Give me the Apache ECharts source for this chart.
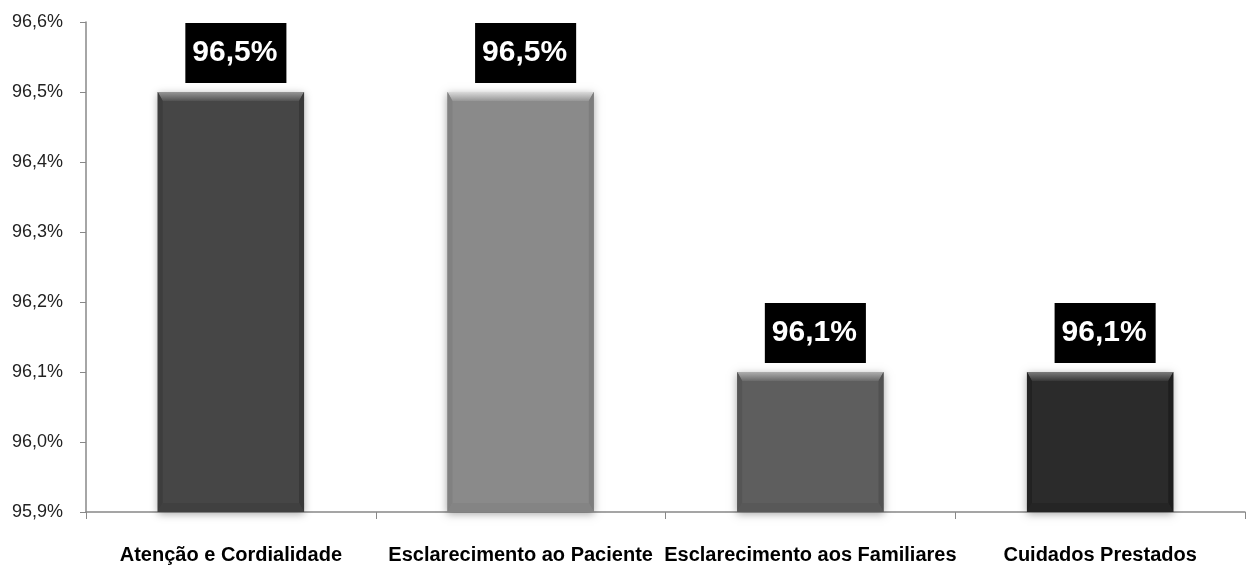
<!DOCTYPE html>
<html>
<head>
<meta charset="utf-8">
<script src="https://cdn.jsdelivr.net/npm/echarts@6/dist/echarts.min.js"></script>
<style>
  html, body { margin: 0; padding: 0; background: #fff; }
  #chart { width: 1247px; height: 567px; }
</style>
</head>
<body>
<div id="chart"></div>
<script>
const categories = ['Atenção e Cordialidade', 'Esclarecimento ao Paciente', 'Esclarecimento aos Familiares', 'Cuidados Prestados'];
const values = [96.5, 96.5, 96.1, 96.1];
const barColors = ['#464646', '#8a8a8a', '#5e5e5e', '#2b2b2b'];
const yTicks = { min: 95.9, max: 96.6, step: 0.1 };

const fmt = v => v.toFixed(1).replace('.', ',') + '%';

function shade(hex, amt) {
  const n = parseInt(hex.slice(1), 16);
  const c = [(n >> 16) & 255, (n >> 8) & 255, n & 255].map(x => Math.max(0, Math.min(255, Math.round(x + amt))));
  return 'rgb(' + c.join(',') + ')';
}

function renderBar(params, api) {
  const idx = api.value(0);
  const val = api.value(1);
  const top = api.coord([idx, val]);
  const base = api.coord([idx, yTicks.min]);
  const bandW = api.size([1, 0])[0];
  const w = bandW * 0.505;
  const x0 = top[0] - w / 2, x1 = top[0] + w / 2;
  const y0 = top[1], y1 = base[1];
  const col = barColors[idx];
  const b = 9;  // bevel depth
  const s = 5;  // side bevel
  return {
    type: 'group',
    children: [
      { type: 'rect', shape: { x: x0, y: y0, width: w, height: y1 - y0 },
        style: { fill: col, shadowBlur: 8, shadowColor: 'rgba(0,0,0,0.35)', shadowOffsetY: 2 } },
      // top bevel
      { type: 'polygon', shape: { points: [[x0, y0], [x1, y0], [x1 - s, y0 + b], [x0 + s, y0 + b]] },
        style: { fill: new echarts.graphic.LinearGradient(0, 0, 0, 1, [
          { offset: 0, color: shade(col, 80) }, { offset: 1, color: shade(col, 12) }]) } },
      // left bevel
      { type: 'polygon', shape: { points: [[x0, y0], [x0 + s, y0 + b], [x0 + s, y1 - b], [x0, y1]] },
        style: { fill: shade(col, -9) } },
      // right bevel
      { type: 'polygon', shape: { points: [[x1, y0], [x1 - s, y0 + b], [x1 - s, y1 - b], [x1, y1]] },
        style: { fill: shade(col, -13) } },
      // bottom bevel
      { type: 'polygon', shape: { points: [[x0, y1], [x0 + s, y1 - b], [x1 - s, y1 - b], [x1, y1]] },
        style: { fill: shade(col, -6) } },
      // value label
      { type: 'text', x: top[0] + 5, y: y0 - 9,
        style: { text: fmt(val), fill: '#fff', font: 'bold 30px "Liberation Sans", Arial, sans-serif',
          align: 'center', verticalAlign: 'bottom', backgroundColor: '#000',
          padding: [15, 9, 15, 7] } }
    ]
  };
}

const chart = echarts.init(document.getElementById('chart'), null, { renderer: 'canvas' });
chart.setOption({
  animation: false,
  backgroundColor: '#fff',
  grid: { left: 86, right: 2, top: 22, bottom: 55, containLabel: false },
  xAxis: {
    type: 'category',
    data: categories,
    axisLine: { lineStyle: { color: '#888', width: 1.5 } },
    axisTick: { show: true, length: 7, lineStyle: { color: '#888' } },
    axisLabel: { interval: 0, margin: 33, color: '#000', fontSize: 20, fontWeight: 'bold',
      fontFamily: '"Liberation Sans", Arial, sans-serif' }
  },
  yAxis: {
    type: 'value',
    min: yTicks.min, max: yTicks.max, interval: yTicks.step,
    axisLine: { show: true, lineStyle: { color: '#888', width: 1.5 } },
    axisTick: { show: true, length: 6, lineStyle: { color: '#888' } },
    splitLine: { show: false },
    axisLabel: { margin: 23, color: '#222', fontSize: 18,
      fontFamily: '"Liberation Sans", Arial, sans-serif',
      formatter: v => fmt(Math.round(v * 10) / 10) }
  },
  series: [{
    type: 'custom',
    renderItem: renderBar,
    encode: { x: 0, y: 1 },
    data: values.map((v, i) => [i, v])
  }]
});
</script>
</body>
</html>
